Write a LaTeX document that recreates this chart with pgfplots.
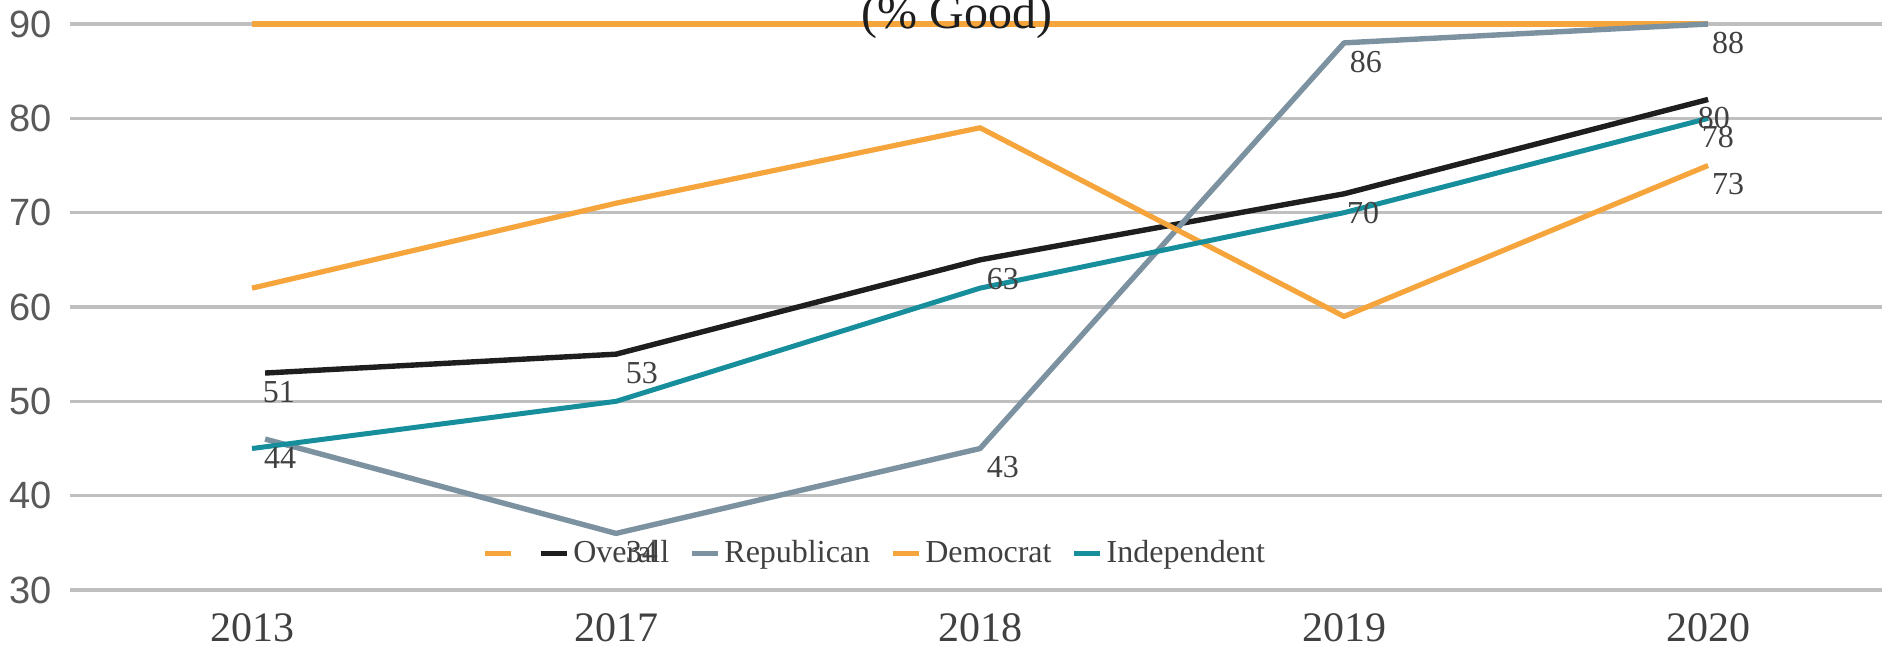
\documentclass[border=0pt]{standalone}
\usepackage{fontspec}
\setmainfont{Liberation Serif}
\newfontfamily\ysans{Liberation Sans}
\usepackage{pgfplots}
\pgfplotsset{compat=1.18}

\definecolor{cOrange}{RGB}{245,165,60}
\definecolor{cBlack}{RGB}{30,30,30}
\definecolor{cGrey}{RGB}{124,146,160}
\definecolor{cTeal}{RGB}{22,142,156}
\definecolor{cGrid}{RGB}{191,191,191}
\definecolor{cText}{RGB}{64,64,64}
\definecolor{cTick}{RGB}{89,89,89}

\begin{document}
\begin{tikzpicture}
\begin{axis}[
    name=ax,
    scale only axis,
    width=906.4pt, height=283pt,
    xmin=-0.5, xmax=4.48,
    ymin=30, ymax=90,
    xtick={0,1,2,3,4},
    xticklabels={2013,2017,2018,2019,2020},
    ytick={30,40,...,90},
    axis line style={draw=none},
    major tick length=0pt,
    ymajorgrids,
    grid style={cGrid, line width=1.6pt},
    clip=false,
    /pgf/number format/assume math mode=true,
    xticklabel style={font=\fontsize{21}{21}\selectfont, text=cText, anchor=base, inner sep=0pt, yshift=-25.5pt},
    yticklabel style={font=\ysans\fontsize{19}{19}\selectfont, text=cTick, anchor=east, inner sep=0pt, xshift=-9pt},
    legend columns=-1,
    legend style={draw=none, fill=none, at={(0.4440,0.065)}, anchor=center,
        font=\fontsize{16}{16}\selectfont, text=cText,
        nodes={inner sep=1pt},
        /tikz/every odd column/.append style={column sep=1pt},
        /tikz/every even column/.append style={column sep=9pt}},
    legend image code/.code={\draw[#1, line width=2.6pt] (0pt,0pt) -- (13pt,0pt);},
    every axis plot/.append style={line join=round},
]
% series at 90 (no name)
\addplot[cOrange, line width=2.6pt] coordinates {(0,90) (1,90) (2,90) (3,90) (4,90)};
\addlegendentry{}
\addplot[cBlack, line width=2.7pt] coordinates {(0.036,53) (1,55) (2,65) (3,72) (4,82)};
\addlegendentry{Overall}
\addplot[cGrey, line width=2.7pt] coordinates {(0.036,46) (1,36) (2,45) (3,88) (4,90)};
\addlegendentry{Republican}
\addplot[cOrange, line width=2.6pt] coordinates {(0,62) (1,71) (2,79) (3,59) (4,75)};
\addlegendentry{Democrat}
\addplot[cTeal, line width=2.5pt] coordinates {(0,45) (1,50) (2,62) (3,70) (4,80)};
\addlegendentry{Independent}

% data labels
\pgfplotsset{lbl/.style={forget plot, draw=none, mark=none, nodes near coords, point meta=y,
    nodes near coords style={anchor=center, inner sep=0pt, font=\fontsize{16}{16}\selectfont, text=cText}}}
\addplot[lbl] coordinates {(0.074,51) (1.071,53) (2.063,63) (3.052,70) (4.016,80)};
\addplot[lbl] coordinates {(0.077,44) (1.071,34) (2.063,43) (3.06,86) (4.055,88)};
\addplot[lbl] coordinates {(4.027,78)};
\addplot[lbl] coordinates {(4.055,73)};

\node[anchor=base, font=\fontsize{24}{24}\selectfont, text=cBlack] at (axis cs:1.936,90) [yshift=-2pt] {(\% Good)};
\end{axis}
\pgfresetboundingbox
\path[use as bounding box] ([xshift=-35pt, yshift=-29.5pt]ax.south west) rectangle ([xshift=906pt, yshift=12pt]ax.north west);
\end{tikzpicture}
\end{document}
